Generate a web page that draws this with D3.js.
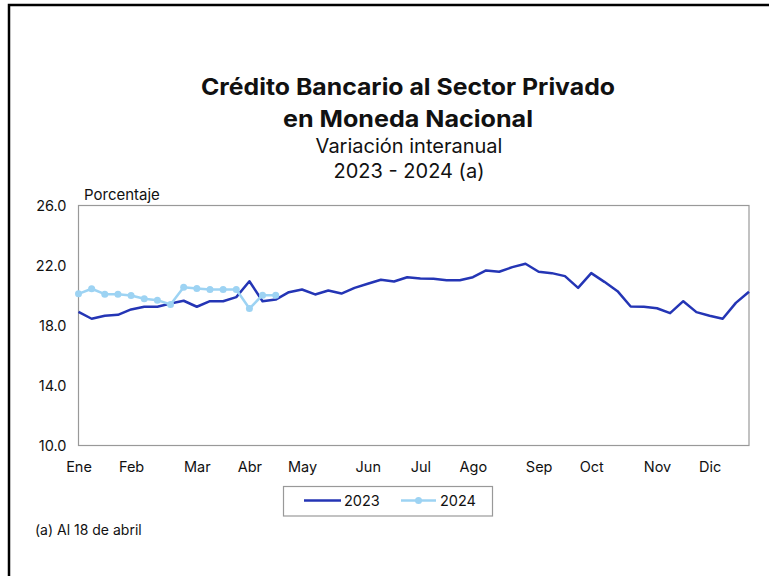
<!DOCTYPE html>
<html>
<head>
<meta charset="utf-8">
<script src="https://cdn.jsdelivr.net/npm/d3@7"></script>
<style>
  body { margin: 0; background: #fff; }
  svg text { font-family: Inter, "Noto Sans", sans-serif; fill: #111; }
</style>
</head>
<body>
<div id="chart"></div>
<script>
// weekly data, index = week of the year
const months = ['Ene', 'Feb', 'Mar', 'Abr', 'May', 'Jun', 'Jul', 'Ago', 'Sep', 'Oct', 'Nov', 'Dic'];
const monthWeeks = [0, 4, 9, 13, 17, 22, 26, 30, 35, 39, 44, 48];
const yTicks = [10, 14, 18, 22, 26];

const values2023 = [
  18.91, 18.45, 18.65, 18.71, 19.07, 19.25, 19.25, 19.47, 19.65, 19.25,
  19.62, 19.62, 19.89, 20.95, 19.62, 19.73, 20.22, 20.40, 20.07, 20.33,
  20.13, 20.51, 20.78, 21.05, 20.93, 21.22, 21.13, 21.11, 21.02, 21.02,
  21.22, 21.67, 21.58, 21.89, 22.12, 21.58, 21.49, 21.29, 20.51, 21.49,
  20.91, 20.29, 19.27, 19.25, 19.15, 18.82, 19.62, 18.89, 18.65, 18.45,
  19.51, 20.25
];
const values2024 = [
  20.11, 20.45, 20.09, 20.09, 20.00, 19.78, 19.69, 19.40, 20.55, 20.47,
  20.40, 20.40, 20.40, 19.13, 20.02, 20.02
];

const width = 769, height = 576;
const plot = { left: 78.5, right: 749, top: 205.5, bottom: 445.5 };

const svg = d3.select('#chart').append('svg')
  .attr('width', width)
  .attr('height', height);

// outer frame (top + left only)
svg.append('path')
  .attr('d', `M9,${height} V5 H${width}`)
  .attr('fill', 'none')
  .attr('stroke', '#000')
  .attr('stroke-width', 2.5);

// titles
const cx = 408;
svg.append('text').attr('x', cx).attr('y', 95).attr('text-anchor', 'middle')
  .style('font-size', '23px').style('font-weight', 700)
  .attr('textLength', 414).attr('lengthAdjust', 'spacingAndGlyphs')
  .text('Crédito Bancario al Sector Privado');
svg.append('text').attr('x', cx).attr('y', 127).attr('text-anchor', 'middle')
  .style('font-size', '23px').style('font-weight', 700)
  .attr('textLength', 250).attr('lengthAdjust', 'spacingAndGlyphs')
  .text('en Moneda Nacional');
svg.append('text').attr('x', 409).attr('y', 153).attr('text-anchor', 'middle')
  .style('font-size', '20px')
  .text('Variación interanual');
svg.append('text').attr('x', 409).attr('y', 178).attr('text-anchor', 'middle')
  .style('font-size', '20px')
  .text('2023 - 2024 (a)');

const x = d3.scaleLinear().domain([0, 51]).range([plot.left, plot.right]);
const y = d3.scaleLinear().domain([10, 26]).range([plot.bottom, plot.top]);

// plot frame
svg.append('rect')
  .attr('x', plot.left).attr('y', plot.top)
  .attr('width', plot.right - plot.left).attr('height', plot.bottom - plot.top)
  .attr('fill', 'none').attr('stroke', '#999').attr('stroke-width', 1.2);

svg.append('text').attr('x', 84).attr('y', 200)
  .style('font-size', '15px').text('Porcentaje');

// y axis labels
const yAxis = d3.axisLeft(y).tickValues(yTicks).tickSize(0).tickPadding(12)
  .tickFormat(d3.format('.1f'));
svg.append('g').attr('transform', `translate(${plot.left},0)`).call(yAxis)
  .call(g => g.select('.domain').remove())
  .selectAll('text').style('font-size', '14.5px').style('font-family', 'Inter, sans-serif').attr('fill', '#111');

// x axis labels
const xAxis = d3.axisBottom(x).tickValues(monthWeeks).tickSize(0).tickPadding(16)
  .tickFormat((d, i) => months[i]);
svg.append('g').attr('transform', `translate(0,${plot.bottom})`).call(xAxis)
  .call(g => g.select('.domain').remove())
  .selectAll('text').style('font-size', '14.5px').style('font-family', 'Inter, sans-serif').attr('fill', '#111');

const line = d3.line().x((d, i) => x(i)).y(d => y(d));

const c2023 = '#2435b5', c2024 = '#9dd3f3';

svg.append('path').datum(values2023)
  .attr('d', line).attr('fill', 'none')
  .attr('stroke', c2023).attr('stroke-width', 2.5).attr('stroke-linejoin', 'round');

svg.append('path').datum(values2024)
  .attr('d', line).attr('fill', 'none')
  .attr('stroke', c2024).attr('stroke-width', 2.5).attr('stroke-linejoin', 'round');

svg.selectAll('.dot2024').data(values2024).enter().append('circle')
  .attr('class', 'dot2024')
  .attr('cx', (d, i) => x(i)).attr('cy', d => y(d)).attr('r', 3.5)
  .attr('fill', c2024);

// legend
const legend = svg.append('g');
legend.append('rect').attr('x', 283.5).attr('y', 486.5).attr('width', 209).attr('height', 29.5)
  .attr('fill', '#fff').attr('stroke', '#999').attr('stroke-width', 1.2);
legend.append('line').attr('x1', 304).attr('x2', 341).attr('y1', 500.5).attr('y2', 500.5)
  .attr('stroke', c2023).attr('stroke-width', 2.5);
legend.append('text').attr('x', 344).attr('y', 506).style('font-size', '14.5px').text('2023');
legend.append('line').attr('x1', 401).attr('x2', 436).attr('y1', 500.5).attr('y2', 500.5)
  .attr('stroke', c2024).attr('stroke-width', 2.5);
legend.append('circle').attr('cx', 418.5).attr('cy', 500.5).attr('r', 3.5).attr('fill', c2024);
legend.append('text').attr('x', 440).attr('y', 506).style('font-size', '14.5px').text('2024');

svg.append('text').attr('x', 35).attr('y', 535).style('font-size', '14px')
  .text('(a) Al 18 de abril');
</script>
</body>
</html>
